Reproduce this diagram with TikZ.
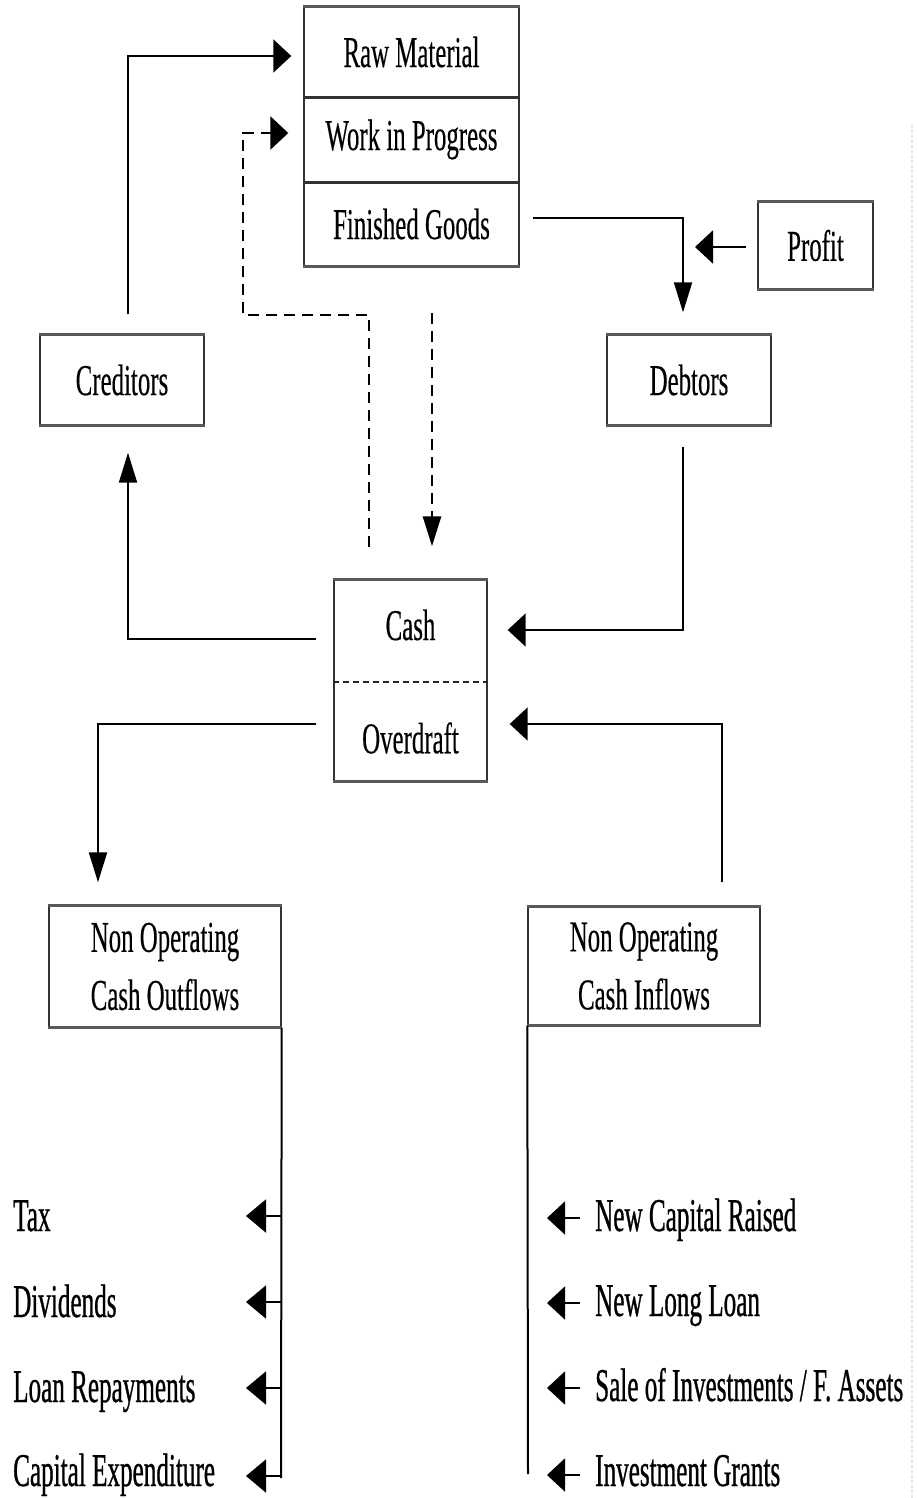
\documentclass[tikz,border=0pt]{standalone}
\usepackage{fontspec}
\setmainfont{Liberation Serif}
\newfontfamily\boxfont[FakeStretch=0.565,FakeBold=0.3]{Liberation Serif}
\newfontfamily\listfont[FakeStretch=0.535,FakeBold=0.6]{Liberation Serif}
\usetikzlibrary{arrows.meta,calc}
\begin{document}
\begin{tikzpicture}[x=1pt,y=-1pt,
  panel/.style={draw=black!80, line width=1.4pt, inner sep=0pt, align=center,
    font=\boxfont\fontsize{44}{58}\selectfont},
  label/.style={inner sep=0pt, align=center, font=\boxfont\fontsize{44}{58}\selectfont},
  flow/.style={line width=2pt, black},
  dsh/.style={line width=2.8pt, black, dash pattern=on 11pt off 7pt},
  harr/.style={-{Triangle[length=18pt,width=33pt]}},
  harrb/.style={-{Triangle[length=20pt,width=33pt]}},
  varr/.style={-{Triangle[length=30pt,width=18pt]}},
  item/.style={inner sep=0pt, anchor=base west, font=\listfont\fontsize{47}{50}\selectfont},
  rim/.style={line width=3pt, black!65}
]
\useasboundingbox (0,0) rectangle (916,1498);

% faint page edge
\draw[black!10, line width=2pt, dash pattern=on 3pt off 2pt] (912,125) -- (912,1498);

% stock: raw material / work in progress / finished goods
\node[panel, minimum width=215pt, minimum height=90pt] (raw) at (411.5,52) {Raw Material};
\node[panel, minimum width=215pt, minimum height=85pt] (wip) at (411.5,139.5) {Work in Progress};
\node[panel, minimum width=215pt, minimum height=84pt] (fg) at (411.5,224) {Finished Goods};
\draw[rim] (raw.north west) -- (raw.north east);
\draw[rim] (fg.south west) -- (fg.south east);
\draw[line width=2.5pt, black!80] (raw.south west) -- (raw.south east);
\draw[line width=2.5pt, black!80] (wip.south west) -- (wip.south east);

% side boxes
\node[panel, minimum width=115pt, minimum height=87pt] (profit) at (815.5,245.5) {Profit};
\node[panel, minimum width=164pt, minimum height=90pt] (debt) at (689,380) {Debtors};
\node[panel, minimum width=164pt, minimum height=90pt] (cred) at (122,380) {Creditors};

% cash / overdraft box
\node[panel, minimum width=153pt, minimum height=201pt] (cashbox) at (410.5,680.5) {};
\node[label] (cashtxt) at (410.5,625) {Cash};
\node[label] (odtxt) at (410.5,738) {Overdraft};
\coordinate (split) at (410.5,682);
\draw[line width=2pt, black!85, dash pattern=on 6pt off 4pt] (cashbox.west |- split) -- (cashbox.east |- split);

% non operating flows
\node[panel, minimum width=232pt, minimum height=121pt] (noco) at (165,966.5) {Non Operating\\Cash Outflows};
\node[panel, minimum width=232pt, minimum height=118pt] (noci) at (644,966) {Non Operating\\Cash Inflows};

\foreach \n in {profit,debt,cred,cashbox,noco,noci} {
  \draw[rim] (\n.north west) -- (\n.north east);
  \draw[rim] (\n.south west) -- (\n.south east);
}

% operating cycle
\draw[flow, harr, shorten <=20pt, shorten >=12pt] ([xshift=6pt]cred.north) |- ([yshift=-4pt]raw.west);
\draw[dsh, harr, shorten <=32pt, shorten >=15pt] ([xshift=-41.5pt]cashbox.north) |- (243,315) |- ([yshift=6.5pt]wip.west);
\draw[dsh, varr, shorten <=46pt, shorten >=33pt] ([xshift=20.5pt]fg.south) -- ([xshift=21.5pt]cashbox.north);
\draw[flow, varr, shorten <=13pt, shorten >=22pt] ([yshift=6pt]fg.east) -| ([xshift=-6pt]debt.north);
\coordinate (pj) at (695,247);
\draw[flow, harr, shorten <=11pt] (profit.west |- pj) -- (pj);
\draw[flow, harr, shorten <=21pt, shorten >=20pt] ([xshift=-6pt]debt.south) |- ([yshift=50.5pt]cashbox.east);
\draw[flow, varr, shorten <=17pt, shorten >=27pt] ([yshift=41.5pt]cashbox.west) -| ([xshift=6pt]cred.south);
\draw[flow, varr, shorten <=17pt, shorten >=23pt] ([yshift=-43.5pt]cashbox.west) -| ([xshift=-67pt]noco.north);
\draw[flow, harr, shorten <=24pt, shorten >=22pt] ([xshift=78pt]noci.north) |- ([yshift=-43.5pt]cashbox.east);

% cash outflows
\coordinate (oend) at (281,1478);
\draw[flow] (noco.south east) -- (oend);
\foreach \y/\b/\t [count=\i] in {1216/1231/Tax,1302/1317/Dividends,1388/1402/Loan Repayments,1476/1486/Capital Expenditure} {
  \node[item] (out\i) at (13,\b) {\t};
  \coordinate (ob\i) at (281,\y);
  \coordinate (ot\i) at (246,\y);
  \draw[flow, harrb] (ob\i) -- (ot\i);
}

% cash inflows
\coordinate (iend) at (528,1474);
\draw[flow] (noci.south west) -- (iend);
\node[item] (in1) at (595,1231) {New Capital Raised};
\node[item] (in2) at (595,1316) {New Long Loan};
\node[item] (in3) at (595,1401) {Sale of Investments / F. Assets};
\node[item] (in4) at (595,1486) {Investment Grants};
\coordinate (it1) at (547,1218);
\coordinate (it2) at (547,1303);
\coordinate (it3) at (547,1388);
\coordinate (it4) at (547,1475);
\foreach \i in {1,2,3,4} {
  \draw[flow, harr, shorten <=15pt] (in\i.west |- it\i) -- (it\i);
}
\end{tikzpicture}
\end{document}
